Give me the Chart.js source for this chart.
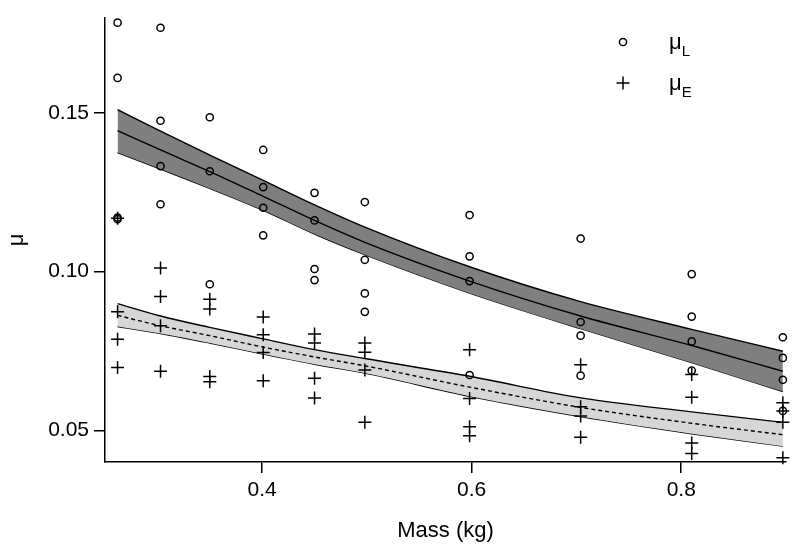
<!DOCTYPE html>
<html>
<head>
<meta charset="utf-8">
<script src="https://cdn.jsdelivr.net/npm/chart.js@4.4.0/dist/chart.umd.min.js"></script>
<style>
  html, body { margin: 0; padding: 0; background: #fff; }
  #wrap { width: 800px; height: 555px; }
</style>
</head>
<body>
<div id="wrap"><canvas id="c"></canvas></div>
<script>
'use strict';

/* ── values ── */
const massLevels = [0.262, 0.303, 0.350, 0.401, 0.450, 0.498, 0.598, 0.704, 0.810, 0.897];

// μL (open circles), one list per mass level
const muL = [
  [0.1784, 0.1610, 0.1170, 0.1165],
  [0.1768, 0.1475, 0.1332, 0.1212],
  [0.1486, 0.1316, 0.0960],
  [0.1383, 0.1266, 0.1201, 0.1114],
  [0.1248, 0.1161, 0.1008, 0.0973],
  [0.1219, 0.1037, 0.0931, 0.0873],
  [0.1178, 0.1048, 0.0970, 0.0674],
  [0.1104, 0.0841, 0.0798, 0.0672],
  [0.0992, 0.0858, 0.0780, 0.0688],
  [0.0793, 0.0728, 0.0659, 0.0561]
];

// μE (crosses), one list per mass level
const muE = [
  [0.1168, 0.0873, 0.0787, 0.0698],
  [0.1011, 0.0921, 0.0829, 0.0686],
  [0.0913, 0.0882, 0.0669, 0.0653],
  [0.0857, 0.0801, 0.0745, 0.0656],
  [0.0803, 0.0775, 0.0664, 0.0602],
  [0.0775, 0.0746, 0.0690, 0.0525],
  [0.0754, 0.0600, 0.0511, 0.0483],
  [0.0706, 0.0574, 0.0545, 0.0478],
  [0.0676, 0.0604, 0.0460, 0.0427],
  [0.0587, 0.0561, 0.0525, 0.0413]
];

// fitted curves and their bands, read at the mass levels
const fitL   = [0.1444, 0.1383, 0.1315, 0.1237, 0.1161, 0.1092, 0.0970, 0.0860, 0.0767, 0.0686];
const fitLHi = [0.1510, 0.1442, 0.1367, 0.1287, 0.1210, 0.1140, 0.1015, 0.0905, 0.0818, 0.0749];
const fitLLo = [0.1375, 0.1323, 0.1262, 0.1193, 0.1118, 0.1053, 0.0932, 0.0820, 0.0713, 0.0622];
const fitE   = [0.0862, 0.0829, 0.0798, 0.0762, 0.0731, 0.0703, 0.0636, 0.0572, 0.0522, 0.0486];
const fitEHi = [0.0899, 0.0860, 0.0824, 0.0788, 0.0754, 0.0726, 0.0670, 0.0602, 0.0558, 0.0525];
const fitELo = [0.0827, 0.0805, 0.0775, 0.0740, 0.0708, 0.0680, 0.0607, 0.0543, 0.0489, 0.0450];

const xTicks = [0.4, 0.6, 0.8];
const yTicks = [0.05, 0.10, 0.15];

/* ── helpers ── */
const FONT = '"Liberation Sans", Arial, sans-serif';
const pts = (ys) => massLevels.map((m, i) => ({ x: m, y: ys[i] }));
const cloud = (lists) => massLevels.flatMap((m, i) => lists[i].map(v => ({ x: m, y: v })));

const curve = (data, extra) => Object.assign({
  type: 'line', data, borderColor: '#000', borderWidth: 1.4, pointRadius: 0,
  cubicInterpolationMode: 'monotone', fill: false, order: 3, clip: false
}, extra);

/* ── legend drawn inside the plot, top right ── */
const keyPlugin = {
  id: 'key',
  afterDatasetsDraw(chart) {
    const ctx = chart.ctx;
    ctx.save();
    ctx.strokeStyle = '#000';
    ctx.fillStyle = '#000';
    ctx.lineWidth = 1.5;
    // circle
    ctx.beginPath();
    ctx.arc(623, 42, 3.6, 0, Math.PI * 2);
    ctx.stroke();
    // cross
    ctx.beginPath();
    ctx.moveTo(616.5, 83); ctx.lineTo(629.5, 83);
    ctx.moveTo(623, 76.5); ctx.lineTo(623, 89.5);
    ctx.stroke();
    const label = (sub, y) => {
      ctx.font = '22px ' + FONT;
      ctx.textBaseline = 'alphabetic';
      ctx.textAlign = 'left';
      ctx.fillText('μ', 669, y);
      const w = ctx.measureText('μ').width;
      ctx.font = '15px ' + FONT;
      ctx.fillText(sub, 669 + w, y + 7);
    };
    label('L', 49);
    label('E', 90);
    ctx.restore();
  }
};

const axisCommon = {
  type: 'linear',
  grid: { drawOnChartArea: false, tickLength: 11, color: '#000', lineWidth: 1.5 },
  border: { color: '#000', width: 1.5 }
};

new Chart(document.getElementById('c'), {
  type: 'scatter',
  data: {
    datasets: [
      curve(pts(fitLHi), { fill: { target: '+1' }, backgroundColor: '#7f7f7f' }),
      curve(pts(fitLLo)),
      curve(pts(fitL), { order: 2 }),
      curve(pts(fitEHi), { fill: { target: '+1' }, backgroundColor: '#d6d6d6' }),
      curve(pts(fitELo)),
      curve(pts(fitE), { order: 2, borderDash: [4, 3] }),
      {
        label: 'μL', data: cloud(muL), pointStyle: 'circle', pointRadius: 3.6,
        pointBorderWidth: 1.5, pointBorderColor: '#000', pointBackgroundColor: 'rgba(0,0,0,0)',
        order: 1, clip: false
      },
      {
        label: 'μE', data: cloud(muE), pointStyle: 'cross', pointRadius: 6.5,
        pointBorderWidth: 1.5, pointBorderColor: '#000',
        order: 1, clip: false
      }
    ]
  },
  options: {
    responsive: true,
    maintainAspectRatio: false,
    animation: false,
    events: [],
    layout: { padding: { left: 0, right: 14, top: 9, bottom: 0 } },
    plugins: { legend: { display: false }, tooltip: { enabled: false } },
    scales: {
      x: Object.assign({}, axisCommon, {
        position: 'bottom', min: 0.25, max: 0.9,
        afterBuildTicks: s => { s.ticks = xTicks.map(v => ({ value: v })); },
        afterFit: s => { s.height = 93; },
        ticks: { callback: v => v.toFixed(1), color: '#000', font: { family: FONT, size: 21 }, padding: 5, maxRotation: 0 },
        title: { display: true, text: 'Mass (kg)', color: '#000', font: { family: FONT, size: 22 }, padding: { top: 0, bottom: 11 } }
      }),
      y: Object.assign({}, axisCommon, {
        position: 'left', min: 0.04, max: 0.18,
        afterBuildTicks: s => { s.ticks = yTicks.map(v => ({ value: v })); },
        afterFit: s => { s.width = 105; },
        ticks: { callback: v => v.toFixed(2), color: '#000', font: { family: FONT, size: 21 }, padding: 5 },
        title: { display: true, text: 'μ', color: '#000', font: { family: FONT, size: 22 }, padding: { top: 4, bottom: 0 } }
      })
    }
  },
  plugins: [keyPlugin]
});
</script>
</body>
</html>
